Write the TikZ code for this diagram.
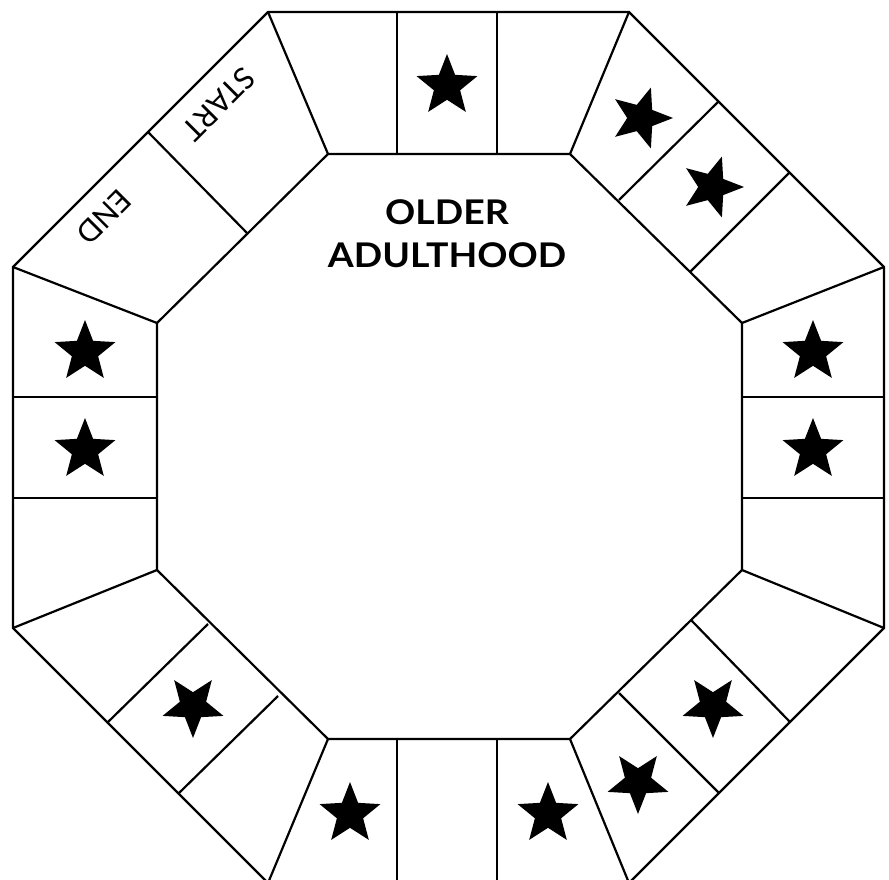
\documentclass[tikz,border=0pt]{standalone}
\usepackage{fontspec}
\setmainfont{Lato}
\newfontfamily\titlefont{Lato}
\newfontfamily\labfont{Lato}
\tikzset{
  board/.style={line width=2.2pt, line join=miter, draw=black},
  pics/bstar/.style={code={
    \fill[black] (#1:32) -- ({#1+36}:13.8) -- ({#1+72}:32) -- ({#1+108}:13.8)
      -- ({#1+144}:32) -- ({#1+180}:13.8) -- ({#1+216}:32) -- ({#1+252}:13.8)
      -- ({#1+288}:32) -- ({#1+324}:13.8) -- cycle;
  }},
  titletext/.style={font=\titlefont\bfseries\fontsize{34}{40}\selectfont, inner sep=0pt, anchor=base, xscale=1.1},
  celltext/.style={font=\labfont\fontsize{30}{34}\selectfont, inner sep=0pt}
}
\begin{document}
\begin{tikzpicture}[x=1pt,y=-1pt]
\useasboundingbox (0,0) rectangle (889,880);
\fill[white] (0,0) rectangle (889,880);
\clip (0,0) rectangle (889,880);
% outer octagon
\coordinate (O1) at (268,12);  \coordinate (O2) at (629,12);
\coordinate (O3) at (884,267); \coordinate (O4) at (884,628);
\coordinate (O5) at (629,883); \coordinate (O6) at (268,883);
\coordinate (O7) at (13,628);  \coordinate (O8) at (13,267);
% inner octagon
\coordinate (I1) at (328,154); \coordinate (I2) at (570,154);
\coordinate (I3) at (742,323); \coordinate (I4) at (742,570);
\coordinate (I5) at (570,739); \coordinate (I6) at (328,739);
\coordinate (I7) at (157,570); \coordinate (I8) at (157,323);
\draw[board] (O1) -- (O2) -- (O3) -- (O4) -- (O5) -- (O6) -- (O7) -- (O8) -- cycle;
\draw[board] (I1) -- (I2) -- (I3) -- (I4) -- (I5) -- (I6) -- (I7) -- (I8) -- cycle;
\foreach \k in {1,...,8} { \draw[board] (O\k) -- (I\k); }
% top cells
\coordinate (t1o) at (397,12);  \coordinate (t1i) at (397,154);
\coordinate (t2o) at (497,12);  \coordinate (t2i) at (497,154);
% bottom cells
\coordinate (b1o) at (397,883); \coordinate (b1i) at (397,739);
\coordinate (b2o) at (497,883); \coordinate (b2i) at (497,739);
% left cells
\coordinate (l1o) at (13,397);  \coordinate (l1i) at (157,397);
\coordinate (l2o) at (13,498);  \coordinate (l2i) at (157,498);
% right cells
\coordinate (r1o) at (884,397); \coordinate (r1i) at (742,397);
\coordinate (r2o) at (884,498); \coordinate (r2i) at (742,498);
% upper-left
\coordinate (ul1o) at (148,132); \coordinate (ul1i) at (247,233);
% upper-right
\coordinate (ur1o) at (719,101); \coordinate (ur1i) at (619,200);
\coordinate (ur2o) at (790,172); \coordinate (ur2i) at (690,272);
% lower-right
\coordinate (lr1o) at (790,722); \coordinate (lr1i) at (691,620);
\coordinate (lr2o) at (719,793); \coordinate (lr2i) at (619,693);
% lower-left
\coordinate (ll1o) at (108,722); \coordinate (ll1i) at (208,624);
\coordinate (ll2o) at (179,793); \coordinate (ll2i) at (278,696);
\foreach \a in {t1,t2,b1,b2,l1,l2,r1,r2,ul1,ur1,ur2,lr1,lr2,ll1,ll2} {
  \draw[board] (\a o) -- (\a i);
}
% stars
\pic at (447,86) {bstar=-90};
\pic at (641,118) {bstar=0};
\pic at (712,187) {bstar=0};
\pic at (813,352) {bstar=-90};
\pic at (813,450) {bstar=-90};
\pic at (85,352) {bstar=-90};
\pic at (85,450) {bstar=-90};
\pic at (713,706) {bstar=90};
\pic at (638,782) {bstar=90};
\pic at (548,814) {bstar=-90};
\pic at (350,814) {bstar=-90};
\pic at (193,706) {bstar=90};
% texts
\node[titletext] (title1) at (447,224) {OLDER};
\node[titletext] (title2) at (447,267) {ADULTHOOD};
\node[celltext, rotate=225] (start) at (219,104) {START};
\node[celltext, rotate=225] (end) at (104,217) {END};
\end{tikzpicture}
\end{document}
